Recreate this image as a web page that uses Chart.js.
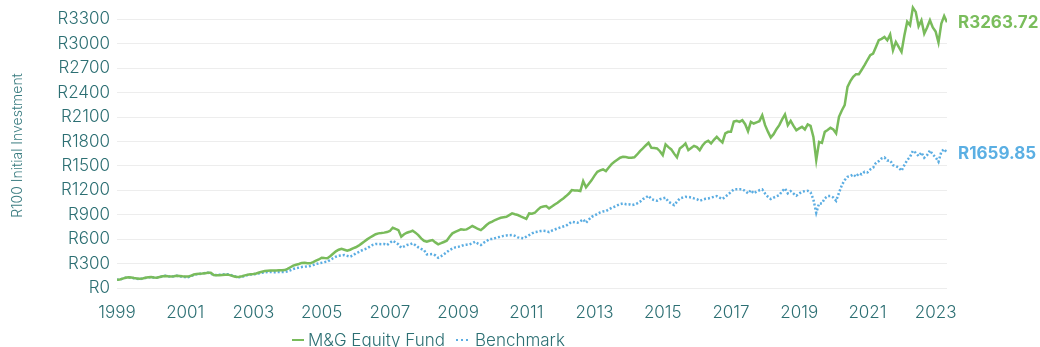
<!DOCTYPE html>
<html>
<head>
<meta charset="utf-8">
<script src="https://cdn.jsdelivr.net/npm/chart.js@4.4.1/dist/chart.umd.min.js"></script>
<style>
html,body{margin:0;padding:0;background:#fff;overflow:hidden;}
#wrap{position:relative;width:1040px;height:347px;}
#legend{position:absolute;left:292px;top:330px;display:flex;align-items:center;font:300 17px Inter, sans-serif;color:#2c6f73;white-space:nowrap;}
.item{display:flex;align-items:center;margin-right:11px;}
.sym{width:12px;height:2px;margin-right:4px;}
</style>
</head>
<body>
<div id="wrap">
<canvas id="fundChart" width="1040" height="347"></canvas>
<div id="legend"></div>
</div>
<script>
// Monthly growth of R100, starting January 1999
const startYear = 1999;

const seriesNames = ["M&G Equity Fund", "Benchmark"];

const fundValues = [
    100, 104, 115, 125, 133, 128, 122, 118, 114, 118, 125, 132,
    135, 128, 125, 135, 145, 147, 143, 140, 145, 151, 148, 144,
    142, 140, 150, 165, 172, 175, 178, 182, 186, 188, 160, 158,
    158, 160, 162, 164, 155, 145, 135, 138, 145, 155, 164, 168,
    172, 178, 190, 200, 209, 212, 215, 214, 216, 218, 218, 220,
    235, 255, 275, 285, 295, 308, 310, 305, 303, 318, 335, 350,
    372, 368, 365, 390, 420, 450, 470, 482, 470, 458, 470, 487,
    500, 520, 545, 570, 597, 620, 640, 660, 671, 675, 680, 687,
    700, 740, 725, 711, 630, 660, 679, 690, 703, 680, 650, 610,
    580, 568, 580, 589, 560, 536, 550, 565, 580, 630, 671, 690,
    705, 720, 715, 720, 740, 761, 745, 725, 711, 740, 773, 800,
    815, 835, 850, 863, 870, 875, 895, 916, 905, 896, 880, 865,
    850, 916, 912, 924, 960, 990, 1000, 1006, 978, 1000, 1025, 1047,
    1075, 1100, 1129, 1160, 1202, 1198, 1196, 1190, 1313, 1236, 1280, 1325,
    1380, 1427, 1445, 1456, 1436, 1480, 1521, 1550, 1575, 1600, 1611, 1608,
    1600, 1599, 1605, 1640, 1680, 1714, 1750, 1783, 1721, 1718, 1714, 1680,
    1632, 1763, 1730, 1702, 1650, 1604, 1714, 1740, 1775, 1693, 1720, 1746,
    1730, 1693, 1750, 1790, 1807, 1775, 1820, 1856, 1820, 1787, 1898, 1918,
    1918, 2045, 2052, 2040, 2061, 2012, 1926, 2040, 2020, 2035, 2049, 2122,
    2000, 1920, 1849, 1889, 1950, 2000, 2070, 2131, 2000, 2052, 1990, 1938,
    1960, 1979, 1947, 2008, 1991, 1856, 1570, 1795, 1783, 1918, 1940, 1967,
    1947, 1898, 2102, 2180, 2245, 2470, 2540, 2593, 2626, 2626, 2680, 2736,
    2800, 2859, 2879, 2960, 3043, 3060, 3084, 3043, 3113, 2920, 3022, 2960,
    2900, 3100, 3271, 3227, 3444, 3391, 3215, 3288, 3125, 3200, 3288, 3200,
    3150, 3014, 3248, 3341, 3263.72
];

const benchmarkValues = [
    100, 104, 115, 125, 131, 126, 120, 114, 110, 116, 124, 131,
    132, 128, 126, 134, 143, 151, 145, 140, 144, 151, 145, 138,
    134, 131, 145, 160, 168, 172, 178, 183, 188, 178, 160, 160,
    162, 165, 168, 168, 160, 148, 138, 131, 138, 151, 160, 166,
    168, 172, 180, 188, 193, 195, 196, 194, 195, 196, 196, 196,
    205, 218, 233, 242, 250, 258, 262, 266, 270, 282, 295, 303,
    310, 318, 323, 345, 365, 384, 395, 400, 405, 395, 384, 400,
    426, 440, 460, 475, 487, 510, 530, 540, 540, 538, 540, 528,
    555, 580, 560, 536, 495, 510, 528, 535, 548, 525, 499, 480,
    466, 413, 415, 417, 400, 372, 390, 413, 440, 466, 485, 499,
    505, 515, 528, 532, 536, 550, 568, 545, 528, 556, 575, 601,
    601, 612, 622, 630, 640, 645, 648, 650, 640, 622, 615, 610,
    630, 650, 670, 685, 691, 699, 703, 700, 687, 705, 718, 732,
    745, 755, 765, 790, 814, 808, 801, 820, 843, 801, 840, 875,
    890, 910, 928, 940, 945, 965, 985, 998, 1015, 1030, 1039, 1030,
    1030, 1018, 1025, 1039, 1060, 1092, 1110, 1133, 1092, 1080, 1071, 1090,
    1100, 1108, 1059, 1040, 1018, 1060, 1100, 1110, 1120, 1118, 1112, 1100,
    1090, 1071, 1085, 1095, 1100, 1110, 1120, 1129, 1110, 1092, 1120, 1149,
    1180, 1211, 1212, 1214, 1214, 1190, 1162, 1202, 1162, 1185, 1200, 1211,
    1160, 1120, 1092, 1110, 1125, 1141, 1190, 1223, 1162, 1190, 1160, 1133,
    1160, 1182, 1190, 1194, 1174, 1088, 924, 1039, 1039, 1100, 1129, 1129,
    1112, 1071, 1170, 1264, 1325, 1366, 1374, 1395, 1366, 1407, 1395, 1427,
    1419, 1456, 1476, 1537, 1558, 1591, 1603, 1566, 1566, 1509, 1497, 1480,
    1439, 1509, 1570, 1610, 1685, 1660, 1620, 1665, 1599, 1632, 1690, 1640,
    1604, 1550, 1673, 1706, 1659.85
];

const yearTicks = [1999, 2001, 2003, 2005, 2007, 2009, 2011, 2013, 2015, 2017, 2019, 2021, 2023];
const valueTicks = [0, 300, 600, 900, 1200, 1500, 1800, 2100, 2400, 2700, 3000, 3300];

const FONT = "Inter, 'Noto Sans', sans-serif";
const TEXT = "#2c6f73";

function rand(num){
    return "R" + num;
}

function toPoints(values){
    return values.map((v, i) => ({ x: startYear + i / 12, y: v }));
}

// value printed at the end of each line
const endLabels = {
    id: "endLabels",
    afterDatasetsDraw(chart){
        const { ctx, chartArea, scales } = chart;
        ctx.save();
        ctx.font = "bold 17px " + FONT;
        ctx.textAlign = "left";
        ctx.textBaseline = "middle";
        chart.data.datasets.forEach(ds => {
            const last = ds.data[ds.data.length - 1];
            ctx.fillStyle = ds.labelColor;
            ctx.fillText(rand(last.y.toFixed(2)), chartArea.right + 11, scales.y.getPixelForValue(last.y) + 1);
        });
        ctx.restore();
    }
};

const ctx = document.getElementById("fundChart");

const chart = new Chart(ctx, {
    type: "line",
    data: {
        datasets: [
            {
                label: seriesNames[0],
                data: toPoints(fundValues),
                borderColor: "#79bb5b",
                labelColor: "#7abd5c",
                borderWidth: 2.5,
                pointRadius: 0,
                tension: 0
            },
            {
                label: seriesNames[1],
                data: toPoints(benchmarkValues),
                borderColor: "#5badE2",
                labelColor: "#5bafe3",
                borderWidth: 2.5,
                borderDash: [2, 2],
                pointRadius: 0,
                tension: 0
            }
        ]
    },
    options: {
        responsive: false,
        animation: false,
        layout: { padding: { top: 3, right: 93, left: 0, bottom: 0 } },
        plugins: {
            legend: { display: false },
            tooltip: { enabled: false }
        },
        scales: {
            x: {
                type: "linear",
                min: startYear,
                max: startYear + (fundValues.length - 1) / 12,
                grid: { display: false },
                border: { display: false },
                afterBuildTicks: axis => { axis.ticks = yearTicks.map(v => ({ value: v })); },
                afterFit: axis => { axis.height = 59; axis.paddingLeft = 0; axis.paddingRight = 0; },
                ticks: {
                    padding: 7,
                    maxRotation: 0,
                    autoSkip: false,
                    color: TEXT,
                    font: { family: FONT, size: 17, weight: 300 },
                    callback: v => String(v)
                }
            },
            y: {
                min: 0,
                max: 3500,
                grid: { color: "#ededed", lineWidth: 1, drawTicks: false },
                border: { display: false },
                afterBuildTicks: axis => { axis.ticks = valueTicks.map(v => ({ value: v })); },
                afterFit: axis => { axis.width = 117; axis.paddingTop = 0; axis.paddingBottom = 0; },
                title: {
                    display: true,
                    text: "R100 Initial Investment",
                    color: "#3a7c80",
                    font: { family: FONT, size: 14, weight: 300 },
                    padding: { top: 9, bottom: 0 }
                },
                ticks: {
                    padding: 7,
                    color: TEXT,
                    font: { family: FONT, size: 17, weight: 300 },
                    callback: v => rand(v)
                }
            }
        }
    },
    plugins: [endLabels]
});

// legend under the chart
const legend = document.getElementById("legend");
chart.data.datasets.forEach(ds => {
    const item = document.createElement("span");
    item.className = "item";
    const sym = document.createElement("span");
    sym.className = "sym";
    if(ds.borderDash){
        sym.style.width = "15px";
        sym.style.background = "repeating-linear-gradient(to right," + ds.borderColor + " 0 2px,transparent 2px 5px)";
    }else{
        sym.style.background = ds.borderColor;
    }
    item.appendChild(sym);
    item.appendChild(document.createTextNode(ds.label));
    legend.appendChild(item);
});
</script>
</body>
</html>
